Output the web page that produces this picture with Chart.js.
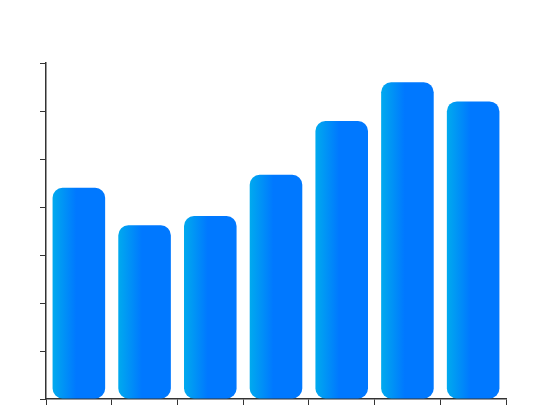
<!DOCTYPE html>
<html>
<head>
<meta charset="utf-8">
<script src="https://cdn.jsdelivr.net/npm/chart.js@4"></script>
<style>
  html, body { margin: 0; padding: 0; background: #fff; }
  #wrap { width: 550px; height: 420px; }
</style>
</head>
<body>
<div id="wrap"><canvas id="chart"></canvas></div>
<script>
const categories = ['A', 'B', 'C', 'D', 'E', 'F', 'G'];
const values = [4.4, 3.62, 3.81, 4.67, 5.79, 6.6, 6.2];
const yMin = 0, yMax = 7, yStep = 1;
const barPct = 0.8;

// горизонтальный градиент внутри каждого столбца
function barGradient(context) {
    const chart = context.chart;
    const xScale = chart.scales.x;
    if (!chart.chartArea || !xScale || context.dataIndex === undefined) return '#0078ff';
    const center = xScale.getPixelForValue(context.dataIndex);
    const w = (chart.chartArea.width / categories.length) * barPct;
    const left = center - w / 2;
    const g = chart.ctx.createLinearGradient(left, 0, left + w, 0);
    g.addColorStop(0, '#00aaee');
    g.addColorStop(0.45, '#0078ff');
    g.addColorStop(1, '#0078ff');
    return g;
}

const axisColor = '#333333';

new Chart(document.getElementById('chart'), {
    type: 'bar',
    data: {
        labels: categories,
        datasets: [{
            data: values,
            backgroundColor: barGradient,
            borderRadius: 10,
            borderSkipped: false,
            barPercentage: barPct,
            categoryPercentage: 1
        }]
    },
    options: {
        responsive: true,
        maintainAspectRatio: false,
        animation: false,
        layout: { padding: { left: 40, right: 44, top: 63, bottom: 15 } },
        plugins: { legend: { display: false }, tooltip: { enabled: false } },
        scales: {
            x: {
                ticks: { display: false },
                grid: { drawOnChartArea: false, color: axisColor, tickLength: 6, offset: true },
                border: { color: axisColor, width: 1.5 }
            },
            y: {
                min: yMin,
                max: yMax,
                ticks: { display: false, stepSize: yStep },
                grid: { drawOnChartArea: false, color: axisColor, tickLength: 6 },
                border: { color: axisColor, width: 1.5 }
            }
        }
    }
});
</script>
</body>
</html>
